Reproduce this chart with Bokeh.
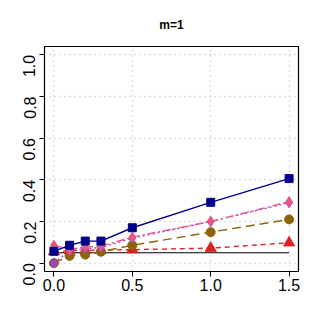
from bokeh.plotting import figure
from bokeh.embed import file_html
from bokeh.resources import INLINE
from bokeh.models import FixedTicker, Range1d, CustomJSTickFormatter
import math

x = [0.0, 0.1, 0.2, 0.3, 0.5, 1.0, 1.5]
blue = [0.057, 0.086, 0.106, 0.106, 0.170, 0.292, 0.406]
purple = [0.0, 0.060, 0.070, 0.075, 0.120, 0.200, 0.290]
pink = [0.086, 0.065, 0.078, 0.082, 0.125, 0.200, 0.295]
brown = [0.0, 0.035, 0.041, 0.055, 0.086, 0.149, 0.210]
red = [0.055, 0.060, 0.062, 0.063, 0.065, 0.072, 0.098]
ref_level = 0.05
x_ticks = [0.0, 0.5, 1.0, 1.5]
y_ticks = [0.0, 0.2, 0.4, 0.6, 0.8, 1.0]

p = figure(width=316, height=322, output_backend="svg", toolbar_location=None,
           x_range=Range1d(-0.06, 1.56), y_range=Range1d(-0.04, 1.04),
           min_border_left=44, min_border_right=18, min_border_top=45, min_border_bottom=51,
           title="m=1")
p.title.align = "center"
p.title.text_font = "Liberation Sans"
p.title.text_font_size = "12px"
p.title.text_font_style = "bold"
p.title.text_color = "black"
p.title.standoff = 30
p.background_fill_color = "white"
p.border_fill_color = "white"
p.outline_line_color = "black"
p.outline_line_width = 1.2

for ax in (p.xaxis, p.yaxis):
    ax.major_label_text_font = "Liberation Sans"
    ax.major_label_text_font_size = "16px"
    ax.major_label_text_color = "black"
    ax.axis_line_color = "black"
    ax.major_tick_line_color = "black"
    ax.major_tick_out = 5
    ax.major_tick_in = 0
    ax.minor_tick_line_color = None
p.xaxis.major_label_standoff = 2
p.yaxis.major_label_standoff = 10
p.xaxis.ticker = FixedTicker(ticks=x_ticks)
p.yaxis.ticker = FixedTicker(ticks=y_ticks)
p.yaxis.major_label_orientation = math.pi / 2
p.xaxis.formatter = CustomJSTickFormatter(code="return tick.toFixed(1);")
p.yaxis.formatter = CustomJSTickFormatter(code="return tick.toFixed(1);")

for g in (p.xgrid, p.ygrid):
    g.grid_line_color = "#BBBBBB"
    g.grid_line_dash = "1 4"
    g.grid_line_width = 1.3

# reference line
p.line([x[0], x[-1]], [ref_level, ref_level], line_color="black", line_width=1.0)

p.line(x, red, line_color="#DD2222", line_width=1.4, line_dash="5 4")
p.line(x, brown, line_color="#8B6508", line_width=1.4, line_dash="9 5")
p.line(x, purple, line_color="#A040E0", line_width=1.4, line_dash="2 3")
p.line(x, pink, line_color="#E8587E", line_width=1.4, line_dash="8 3 2 3")
p.line(x, blue, line_color="#00008B", line_width=1.4)

p.scatter(x, red, marker="triangle", size=11, fill_color="#DD2222", line_color="#DD2222")
p.scatter(x, brown, marker="circle", size=9, fill_color="#8B6508", line_color="#8B6508")
p.scatter(x, purple, marker="diamond", size=10, fill_color="#A040E0", line_color="#A040E0")
p.scatter(x, pink, marker="diamond", size=10, fill_color="#E8587E", line_color="#E8587E")
p.scatter(x, blue, marker="square", size=8, fill_color="#00008B", line_color="#00008B")

open("out.html", "w").write(file_html(p, INLINE))
